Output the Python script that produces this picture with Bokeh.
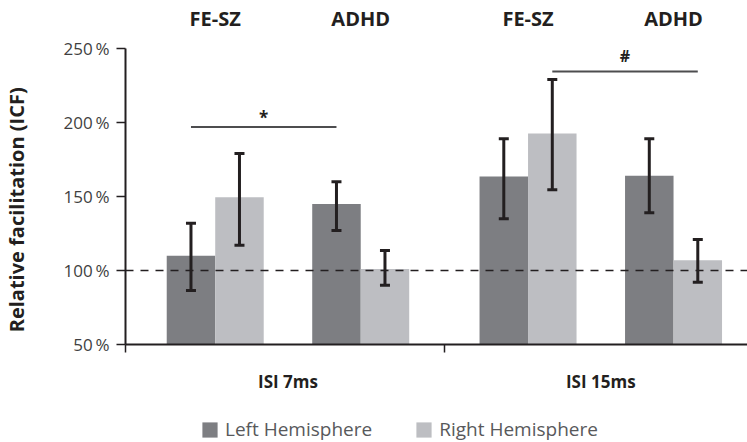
from bokeh.plotting import figure
from bokeh.layouts import column
from bokeh.models import (Range1d, FixedTicker, ColumnDataSource, Whisker, TeeHead,
                          Span, LinearAxis, Legend, LegendItem)
from bokeh.core.properties import value
from bokeh.embed import file_html
from bokeh.resources import INLINE

# ---------------- data ----------------
isi_labels = ["ISI 7ms", "ISI 15ms"]
groups = ["FE-SZ", "ADHD", "FE-SZ", "ADHD"]
group_isi = [0, 0, 1, 1]
hemispheres = ["Left Hemisphere", "Right Hemisphere"]

left_mean = [110, 145, 163.5, 164]
left_upper = [132, 160, 189, 189]
left_lower = [86.5, 127, 135, 139]

right_mean = [149.5, 101, 192.5, 107]
right_upper = [179, 113.5, 229, 121]
right_lower = [117, 90, 154.5, 92]

y_ticks = [50, 100, 150, 200, 250]
y_tick_labels = ["50\u2009%", "100\u2009%", "150\u2009%", "200\u2009%", "250\u2009%"]
y_title = "Relative facilitation (ICF)"

reference_level = 100

# significance brackets: (group index, hemisphere) pairs + symbol
sig_marks = [
    {"from": (0, "L"), "to": (1, "L"), "symbol": "*", "y": 197, "dy": 6.5, "size": "17px"},
    {"from": (2, "R"), "to": (3, "R"), "symbol": "#", "y": 234.5, "dy": 10.5, "size": "16px"},
]

# ---------------- layout ----------------
FONT = "Open Sans"
DARK = "#7d7e82"
LIGHT = "#bdbec2"
INK = "#231f20"

first_center = 1.85
within_step = 3.0
isi_extra = 0.45
pair_centers = [first_center + i * within_step + group_isi[i] * isi_extra
                for i in range(len(groups))]
left_x = [c - 0.5 for c in pair_centers]
right_x = [c + 0.5 for c in pair_centers]
bar_x = {"L": left_x, "R": right_x}

isi_centers = [(pair_centers[0] + pair_centers[1]) / 2,
               (pair_centers[2] + pair_centers[3]) / 2]
isi_boundary = ((right_x[1] + 0.5) + (left_x[2] - 0.5)) / 2

p = figure(width=747, height=400, output_backend="svg", toolbar_location=None,
           x_range=Range1d(0, 12.825), y_range=Range1d(50, 277),
           min_border_left=125, min_border_right=0, min_border_top=8,
           min_border_bottom=56, x_axis_location=None, y_axis_location=None)
p.outline_line_color = None
p.xgrid.visible = False
p.ygrid.visible = False
p.background_fill_color = "white"
p.border_fill_color = "white"

# bars
p.vbar(x=left_x, top=left_mean, bottom=50, width=1.0, fill_color=DARK, line_color=None)
p.vbar(x=right_x, top=right_mean, bottom=50, width=1.0, fill_color=LIGHT, line_color=None)

# reference line
p.add_layout(Span(location=reference_level, dimension="width", line_color=INK,
                  line_width=1.5, line_dash="8 7", level="overlay"))

# error bars
err_src = ColumnDataSource(dict(x=left_x + right_x,
                                upper=left_upper + right_upper,
                                lower=left_lower + right_lower))
head = dict(size=10, line_width=3, line_color=INK)
p.add_layout(Whisker(base="x", upper="upper", lower="lower", source=err_src,
                     dimension="height", line_width=3, line_color=INK,
                     level="overlay",
                     upper_head=TeeHead(**head), lower_head=TeeHead(**head)))

# significance brackets
for s in sig_marks:
    x0 = bar_x[s["from"][1]][s["from"][0]]
    x1 = bar_x[s["to"][1]][s["to"][0]]
    p.segment(x0=[x0], y0=[s["y"]], x1=[x1], y1=[s["y"]], line_color="#4d4d4f",
              line_width=2)
    p.text(x=[(x0 + x1) / 2], y=[s["y"] + s["dy"]], text=[s["symbol"]],
           text_font=value(FONT), text_font_size=s["size"], text_font_style="bold",
           text_color=INK, text_align="center", text_baseline="middle")

# group labels on top
p.text(x=pair_centers, y=[270] * len(groups), text=groups, text_font=value(FONT),
       text_font_size="20px", text_font_style="bold", text_color=INK,
       text_align="center", text_baseline="middle")

# y axis
yax = LinearAxis(bounds=(50, 250))
yax.ticker = FixedTicker(ticks=y_ticks)
yax.major_label_overrides = {t: l for t, l in zip(y_ticks, y_tick_labels)}
yax.axis_line_color = INK
yax.axis_line_width = 2
yax.major_tick_line_color = INK
yax.major_tick_line_width = 1.5
yax.major_tick_out = 9
yax.major_tick_in = 0
yax.minor_tick_line_color = None
yax.major_label_standoff = 7
yax.major_label_text_font = FONT
yax.major_label_text_font_size = "17px"
yax.major_label_text_color = "#3f3f41"
# trailing em spaces keep the visible title centred on the drawn 50-250 % span
yax.axis_label = y_title + "\u2003\u2003\u2003\u2004"
yax.axis_label_text_font = FONT
yax.axis_label_text_font_size = "20px"
yax.axis_label_text_font_style = "bold"
yax.axis_label_text_color = INK
yax.axis_label_standoff = 30
p.add_layout(yax, "left")

# x axis
xax = LinearAxis()
xax.ticker = FixedTicker(ticks=isi_centers, minor_ticks=[0, isi_boundary])
xax.major_label_overrides = {t: l for t, l in zip(isi_centers, isi_labels)}
xax.axis_line_color = INK
xax.axis_line_width = 2
xax.major_tick_line_color = None
xax.major_tick_out = 0
xax.major_tick_in = 0
xax.minor_tick_line_color = INK
xax.minor_tick_line_width = 1.5
xax.minor_tick_out = 8
xax.minor_tick_in = 0
xax.major_label_standoff = 17
xax.major_label_text_font = FONT
xax.major_label_text_font_size = "17px"
xax.major_label_text_font_style = "bold"
xax.major_label_text_color = INK
p.add_layout(xax, "below")

# legend strip (separate small figure under the chart; its bars lie off-range)
pl = figure(width=747, height=42, output_backend="svg", toolbar_location=None,
            x_range=Range1d(-1001, -1000), y_range=Range1d(-1001, -1000),
            min_border_left=0, min_border_right=0, min_border_top=0,
            min_border_bottom=0, x_axis_location=None, y_axis_location=None)
pl.outline_line_color = None
pl.xgrid.visible = False
pl.ygrid.visible = False
pl.border_fill_color = "white"
k_left = pl.vbar(x=left_x, top=left_mean, bottom=50, width=1.0, fill_color=DARK,
                 line_color=None)
k_right = pl.vbar(x=right_x, top=right_mean, bottom=50, width=1.0, fill_color=LIGHT,
                  line_color=None)
lg = Legend(items=[LegendItem(label=hemispheres[0], renderers=[k_left]),
                   LegendItem(label=hemispheres[1], renderers=[k_right])])
lg.orientation = "horizontal"
lg.location = (75, 0)
lg.glyph_width = 19
lg.glyph_height = 19
lg.label_standoff = 6
lg.spacing = 42
lg.padding = 0
lg.margin = 0
lg.border_line_color = None
lg.background_fill_alpha = 0
lg.label_text_font = FONT
lg.label_text_font_size = "19px"
lg.label_text_color = "#58595b"
pl.add_layout(lg, "center")

layout = column(p, pl, spacing=0)
open("out.html", "w").write(file_html(layout, INLINE))
